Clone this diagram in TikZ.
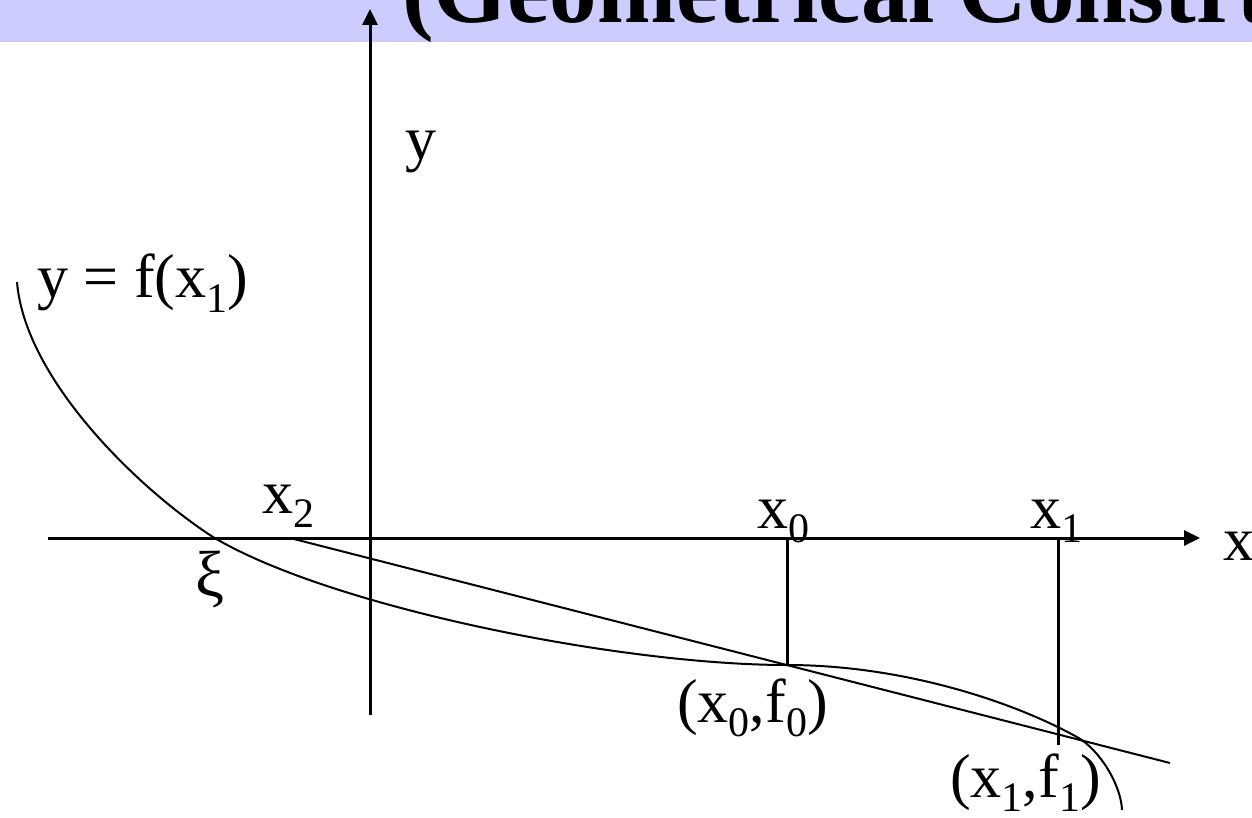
\documentclass[tikz,border=0pt]{standalone}
\usepackage{fontspec}
\setmainfont{Liberation Serif}
\usetikzlibrary{arrows.meta}
\definecolor{TitleBand}{RGB}{204,204,255}
\newcommand\lowsub[1]{\raisebox{-14pt}{\fontsize{42}{42}\selectfont #1}}
\tikzset{
  axisline/.style={line width=3pt,-{Triangle[length=16pt,width=15pt]}},
  fcurve/.style={line width=2pt},
  secantline/.style={line width=2pt},
  dropline/.style={line width=3pt},
  axislabel/.style={anchor=base west,inner sep=0pt,
    font=\fontsize{62}{70}\selectfont},
  titletext/.style={anchor=base west,inner sep=0pt,
    font=\fontsize{95}{100}\selectfont\bfseries}
}

\begin{document}
\begin{tikzpicture}[x=1pt,y=-1pt]
  \path[use as bounding box,clip] (0,0) rectangle (1252,818);
  \fill[TitleBand] (0,0) rectangle (1252,42);
  \node[titletext] (title) at (402,23) {(Geometrical Construction)};
  % axes
  \coordinate (xstart) at (48,538);
  \coordinate (xend) at (1200,538);
  \coordinate (ystart) at (370,715);
  \coordinate (yend) at (370,9);
  \draw[axisline] (xstart) -- (xend);
  \draw[axisline] (ystart) -- (yend);
  \node[axislabel] (xname) at (1223,560) {x};
  \node[axislabel] (yname) at (405,160) {y};
  % iterates and the secant
  \coordinate (X2) at (290,538);
  \coordinate (X0) at (787,538);
  \coordinate (X1) at (1058,538);
  \coordinate (F0) at (787,665);
  \coordinate (F1) at (1058,745);
  \coordinate (secend) at (1170,763);
  \draw[dropline] (X0) -- (F0);
  \draw[dropline] (X1) -- (F1);
  \draw[secantline] (X2) -- (secend);
  % the function
  \coordinate (fstart) at (17,282);
  \coordinate (xi) at (213,537);
  \coordinate (fcross) at (1077,737);
  \coordinate (fend) at (1122,810);
  \draw[fcurve] (fstart) .. controls (25,380) and (140,490) .. (xi)
    .. controls (330,607) and (620,665) .. (F0)
    .. controls (900,665) and (1010,700) .. (fcross)
    .. controls (1100,750) and (1121,785) .. (fend);
  % labels
  \node[axislabel] (fname) at (37,298) {y = f(x\lowsub{1})};
  \node[axislabel] (x2name) at (262,513) {x\lowsub{2}};
  \node[axislabel,font=\fontsize{65}{65}\selectfont] (xiname) at (195,596) {ξ};
  \node[axislabel] (x0name) at (757,528) {x\lowsub{0}};
  \node[axislabel] (x1name) at (1030,528) {x\lowsub{1}};
  \node[axislabel] (f0name) at (677,722) {(x\lowsub{0},f\lowsub{0})};
  \node[axislabel] (f1name) at (950,797) {(x\lowsub{1},f\lowsub{1})};
\end{tikzpicture}
\end{document}
